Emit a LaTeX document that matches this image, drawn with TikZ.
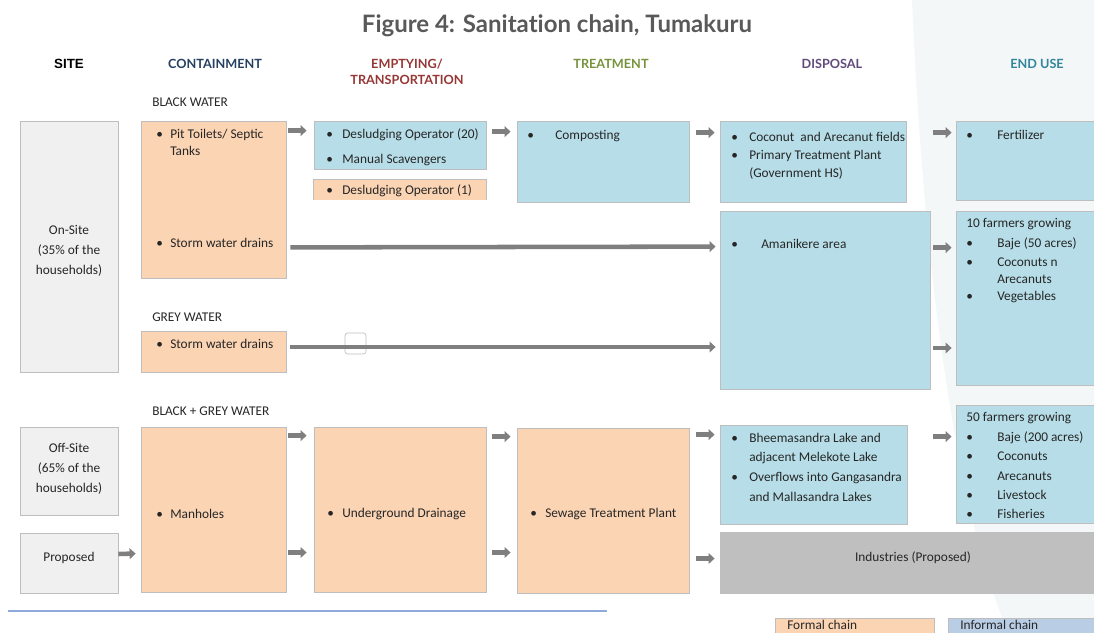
\documentclass[tikz,border=0pt]{standalone}
\usepackage{fontspec}
\setmainfont{Carlito}
\newfontfamily\latofont[Ligatures=NoCommon]{Lato}
\newfontfamily\arialfont{Liberation Sans}
\usetikzlibrary{arrows.meta,fit,calc}
\definecolor{peach}{HTML}{FBD4B4}
\definecolor{aqua}{HTML}{B7DEE8}
\definecolor{sitegrey}{HTML}{F0F0F0}
\definecolor{indgrey}{HTML}{BFBFBF}
\definecolor{infblue}{HTML}{B9CDE5}
\definecolor{arrgrey}{HTML}{7F7F7F}
\definecolor{bordgrey}{HTML}{BEBEBE}
\definecolor{titlegrey}{HTML}{595959}
\definecolor{hcont}{HTML}{254061}
\definecolor{hempt}{HTML}{953735}
\definecolor{htreat}{HTML}{76923C}
\definecolor{hdisp}{HTML}{604A7B}
\definecolor{hend}{HTML}{31859C}
\definecolor{bgshape}{HTML}{F3F7F7}
\definecolor{baseblue}{HTML}{8EAADB}
\tikzset{
  box/.style={draw=bordgrey, line width=0.6pt, inner sep=0pt},
  pbox/.style={box, fill=peach},
  abox/.style={box, fill=aqua},
  sbox/.style={box, fill=sitegrey},
  txt/.style={inner sep=0pt, font=\fontsize{10}{12}\selectfont, text=black!85},
  ctxt/.style={txt, align=center},
  hdr/.style={inner sep=0pt, font=\latofont\bfseries\fontsize{9.5}{12}\selectfont, align=center},
  arr/.style={draw=arrgrey, line width=3.4pt, -{Triangle[length=4.5pt,width=8pt]}},
}
\newcommand{\bl}[5]{\node[txt,anchor=west] (#1) at (#2,#3) {\makebox[#4][l]{\textbullet}#5};}
\begin{document}
\begin{tikzpicture}[x=0.75pt,y=-0.75pt]
\useasboundingbox (0,0) rectangle (1094,632);
% faint background shape
\fill[bgshape] (912,0) -- (1094,0) -- (1094,632) -- (1008,632) .. controls (960,520) and (925,300) .. (912,0) -- cycle;

% title and headers
\node[inner sep=0pt, font=\latofont\bfseries\fontsize{18}{22}\selectfont, text=titlegrey] (title) at (557,26) {Figure 4: Sanitation chain, Tumakuru};
\node[inner sep=0pt, font=\arialfont\bfseries\fontsize{10}{12}\selectfont] (hsite) at (69,64) {SITE};
\node[hdr, text=hcont] (hcontain) at (215,64) {CONTAINMENT};
\node[hdr, text=hempt] (hempty) at (407,72) {EMPTYING/\\TRANSPORTATION};
\node[hdr, text=htreat] (htreatment) at (611,64) {TREATMENT};
\node[hdr, text=hdisp] (hdisposal) at (832,64) {DISPOSAL};
\node[hdr, text=hend] (hendu) at (1037,64) {END USE};

\node[txt, anchor=west] (lblack) at (152,102) {BLACK WATER};
\node[txt, anchor=west] (lgrey) at (152,317) {GREY WATER};
\node[txt, anchor=west] (lbg) at (152,411) {BLACK + GREY WATER};

% site boxes
\node[sbox, fit={(20,121)(118,372)}] (onsite) {};
\node[sbox, fit={(20,427)(118,515)}] (offsite) {};
\node[sbox, fit={(20,533)(118,593)}] (proposed) {};
\node[ctxt] (onsitet) at (69,251) {On-Site\\[3pt](35\% of the\\[3pt]households)};
\node[ctxt] (offsitet) at (69,469) {Off-Site\\[3pt](65\% of the\\[3pt]households)};
\node[ctxt] (proposedt) at (69,558) {Proposed};

% containment
\node[pbox, fit={(141,121)(286,278)}] (pit) {};
\node[pbox, fit={(141,331)(286,372)}] (gstorm) {};
\node[pbox, fit={(141,427)(286,592)}] (manh) {};
% emptying
\node[abox, fit={(314,121)(486,169)}] (desl) {};
\node[pbox, fit={(314,180)(486,200)}, draw=none] (desl1) {};
\draw[bordgrey, line width=0.6pt] (desl1.south west) -- (desl1.north west) -- (desl1.north east) -- (desl1.south east);
\node[pbox, fit={(314,427)(486,592)}] (ugd) {};
% treatment
\node[abox, fit={(517,121)(689,202)}] (comp) {};
\node[pbox, fit={(517,428)(689,593)}] (stp) {};
% disposal
\node[abox, fit={(720,121)(906,202)}] (disp1) {};
\node[abox, fit={(720,211)(930,389)}] (amani) {};
\node[abox, fit={(720,425)(907,524)}] (bheema) {};
\node[box, fill=indgrey, fit={(720,532)(1094,593)}] (indus) {};
% end use
\node[abox, fit={(956,121)(1100,200)}] (fert) {};
\node[abox, fit={(956,211)(1100,385)}] (farm10) {};
\node[abox, fit={(956,405)(1100,523)}] (farm50) {};

% texts
\bl{tpit}{156}{135}{10.5pt}{Pit Toilets/ Septic}
\node[txt, anchor=west] (tpit2) at (170,151) {Tanks};
\bl{tstorm}{156}{243}{10.5pt}{Storm water drains}
\bl{tgstorm}{156}{344}{10.5pt}{Storm water drains}
\bl{tmanh}{156}{514}{10.5pt}{Manholes}
\bl{tdesl}{326}{135}{12pt}{Desludging Operator (20)}
\bl{tman}{326}{160}{12pt}{Manual Scavengers}
\bl{tdesl1}{326}{191}{12pt}{Desludging Operator (1)}
\bl{tugd}{327}{514}{11.25pt}{Underground Drainage}
\bl{tcomp}{527}{136}{21pt}{Composting}
\bl{tstp}{530}{514}{11.25pt}{Sewage Treatment Plant}
\bl{tcoco}{731}{137}{13.5pt}{Coconut\ \ and Arecanut fields}
\bl{tptp}{731}{156}{13.5pt}{Primary Treatment Plant}
\node[txt, anchor=west] (tgov) at (749,174) {(Government HS)};
\bl{tamani}{731}{244}{22.5pt}{Amanikere area}
\bl{tbh}{731}{438}{13.5pt}{Bheemasandra Lake and}
\node[txt, anchor=west] (tbh2) at (749,458) {adjacent Melekote Lake};
\bl{tov}{731}{478}{13.5pt}{Overflows into Gangasandra}
\node[txt, anchor=west] (tov2) at (749,497) {and Mallasandra Lakes};
\node[ctxt] (tind) at (913,558) {Industries (Proposed)};
\bl{tfert}{966}{135}{23.25pt}{Fertilizer}
\node[txt, anchor=west] (tf10) at (966,224) {10 farmers growing};
\bl{tb50}{966}{244}{23.25pt}{Baje (50 acres)}
\bl{tcn}{966}{262}{23.25pt}{Coconuts n}
\node[txt, anchor=west] (tcn2) at (997,279) {Arecanuts};
\bl{tveg}{966}{297}{23.25pt}{Vegetables}
\node[txt, anchor=west] (tf50) at (966,418) {50 farmers growing};
\bl{tb200}{966}{438}{23.25pt}{Baje (200 acres)}
\bl{tcoc}{966}{456}{23.25pt}{Coconuts}
\bl{tare}{966}{476}{23.25pt}{Arecanuts}
\bl{tlive}{966}{495}{23.25pt}{Livestock}
\bl{tfish}{966}{514}{23.25pt}{Fisheries}

% odd small square
\draw[black!25, line width=0.5pt, rounded corners=2pt] (345,333) rectangle (366,354);

% arrows
\draw[arr] ($(pit.north east)+(2,10)$) -- ($(desl.north west)+(-7,10)$);
\draw[arr] ($(desl.north east)+(6,11)$) -- ($(comp.north west)+(-6,11)$);
\draw[arr] ($(comp.north east)+(7,12)$) -- ($(disp1.north west)+(-5,12)$);
\draw[arr] ($(disp1.north east)+(27,12)$) -- ($(fert.north west)+(-4,12)$);
\draw[arr] ($(pit.south east)+(4,-31)$) -- ($(amani.north west)+(-4,36)$);
\draw[arr] ($(amani.north east)+(3,37)$) -- ($(farm10.north west)+(-4,37)$);
\draw[arr] ($(gstorm.east)+(4,-4.5)$) -- ($(amani.west)+(-4,47)$);
\draw[arr] ($(amani.east)+(3,48)$) -- ($(farm10.west)+(-4,50)$);
\draw[arr] ($(manh.north east)+(2,9)$) -- ($(ugd.north west)+(-7,9)$);
\draw[arr] ($(manh.east)+(2,43)$) -- ($(ugd.west)+(-7,43)$);
\draw[arr] ($(ugd.north east)+(6,10)$) -- ($(stp.north west)+(-6,9)$);
\draw[arr] ($(ugd.east)+(6,43)$) -- ($(stp.west)+(-6,42)$);
\draw[arr] ($(stp.north east)+(7,7)$) -- ($(bheema.north west)+(-5,10)$);
\draw[arr] ($(stp.east)+(7,48)$) -- ($(indus.west)+(-5,-4)$);
\draw[arr] ($(bheema.north east)+(26,12)$) -- ($(farm50.north west)+(-4,32)$);
\draw[arr] ($(proposed.east)+(0,-9)$) -- ($(manh.west)+(-5,44)$);

% base line
\draw[baseblue, line width=1.2pt] (8,611) -- (607,611);

% legend
\node[pbox, fit={(775,618)(934,640)}] (lformal) {};
\node[box, fill=infblue, fit={(948,618)(1100,640)}] (linformal) {};
\node[txt, anchor=west] (tformal) at (787,625) {Formal chain};
\node[txt, anchor=west] (tinformal) at (960,625) {Informal chain};
\end{tikzpicture}
\end{document}
